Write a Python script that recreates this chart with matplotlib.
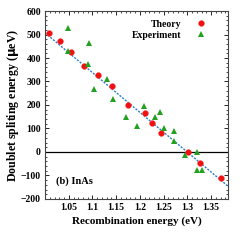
import numpy as np
import matplotlib
matplotlib.use('Agg')
import matplotlib.pyplot as plt
from matplotlib.ticker import MultipleLocator

plt.rcParams['font.family'] = ['Liberation Serif', 'DejaVu Serif']
plt.rcParams['font.weight'] = 'bold'

# theory points (recombination energy in eV, splitting in ueV)
theory_x = [1.008, 1.031, 1.055, 1.083, 1.111, 1.142, 1.175, 1.210, 1.226, 1.245, 1.302, 1.326, 1.370]
theory_y = [505, 472, 425, 365, 326, 281, 199, 165, 124, 79, 0, -45, -112]

# experiment points
exp_x = [1.049, 1.049, 1.092, 1.091, 1.104, 1.131, 1.144, 1.171, 1.193, 1.209,
         1.232, 1.243, 1.251, 1.271, 1.272, 1.295, 1.320, 1.320, 1.331]
exp_y = [526, 430, 465, 375, 270, 312, 226, 147, 112, 194,
         148, 168, 100, 90, 48, -13, 0, -78, -78]

# linear fit end points
fit_x = [1.0, 1.386]
fit_y = [507, -146]

fig = plt.figure(figsize=(2.45, 2.45), dpi=100)
ax = fig.add_axes([0.184, 0.188, 0.747, 0.767])

ax.axhline(0, color='black', lw=0.9, zorder=1)
ax.plot(fit_x, fit_y, color='#2a7fc8', lw=1.0, ls=(0, (1.5, 1.0)), zorder=2)
ax.plot(theory_x, theory_y, 'o', color='#f01010', ms=4.2, mec='#ff4040', mew=0.3,
        label='Theory', zorder=3)
ax.plot(exp_x, exp_y, '^', color='#22a020', ms=4.2, mew=0, label='Experiment', zorder=3)

ax.set_xlim(1.0, 1.386)
ax.set_ylim(-200, 600)
ax.xaxis.set_major_locator(MultipleLocator(0.05))
ax.xaxis.set_minor_locator(MultipleLocator(0.01))
ax.yaxis.set_major_locator(MultipleLocator(100))
ax.yaxis.set_minor_locator(MultipleLocator(20))
ax.set_xticks([1.05, 1.1, 1.15, 1.2, 1.25, 1.3, 1.35])
ax.set_xticklabels(['1.05', '1.1', '1.15', '1.2', '1.25', '1.3', '1.35'])
ax.tick_params(which='both', direction='in', top=True, right=True, labelsize=7, pad=3)
ax.tick_params(which='major', length=3, width=0.6)
ax.tick_params(which='minor', length=1.5, width=0.5)
for s in ax.spines.values():
    s.set_linewidth(0.8)
    s.set_color('#444444')

ax.set_xlabel('Recombination energy (eV)', fontsize=8, fontweight='bold', labelpad=3)
ax.set_ylabel(r'Doublet spliting energy ($\mathbf{\mu}$eV)', fontsize=8.6, fontweight='bold', labelpad=0)

ax.text(1.022, -125, '(b) InAs', fontsize=7.5, fontweight='bold', va='center')

ax.legend(loc='upper right', frameon=False, markerfirst=False, fontsize=7,
          handletextpad=1.4, borderaxespad=0.5, labelspacing=0.2, handlelength=1.2,
          bbox_to_anchor=(0.93, 1.0))

fig.savefig('out.png', dpi=100)
